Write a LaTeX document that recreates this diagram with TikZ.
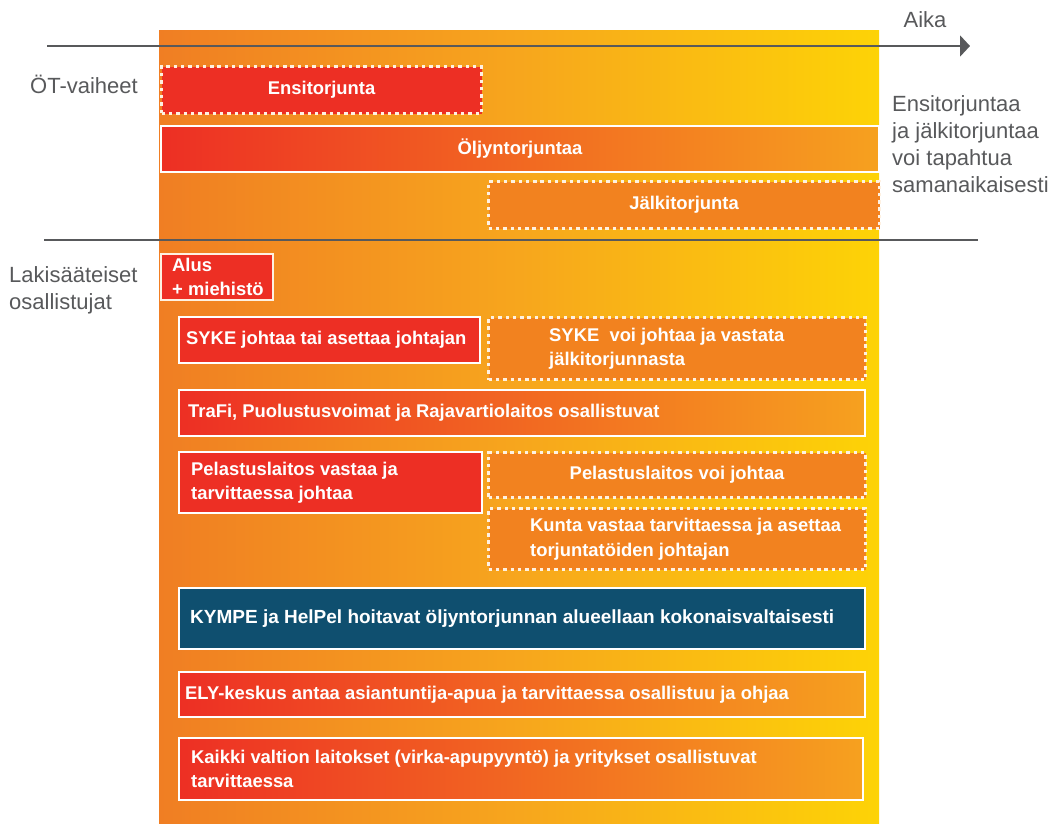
\documentclass[tikz,border=0pt]{standalone}
\usepackage{fontspec}
\setmainfont{Liberation Sans}
\usetikzlibrary{arrows.meta,positioning}

\definecolor{otred}{HTML}{ED2F24}
\definecolor{otorange}{HTML}{F2821F}
\definecolor{otlight}{HTML}{F6A11F}
\definecolor{otblue}{HTML}{0F4F6F}
\definecolor{otgrey}{HTML}{58595B}
\definecolor{otcream}{HTML}{FEF1E2}
\definecolor{bgleft}{HTML}{F07E23}
\definecolor{bgmid}{HTML}{F7A61D}
\definecolor{bgright}{HTML}{FDD306}

\newcommand{\boxtextfont}{\bfseries\fontsize{18.4}{24.5}\selectfont}
\newcommand{\sidetextfont}{\fontsize{22}{27}\selectfont}

\begin{document}
\begin{tikzpicture}[x=1pt, y=-1pt,
    solidbox/.style={draw=white, line width=2pt, text=white, font=\boxtextfont, inner sep=0pt, anchor=north west},
    dotbox/.style={solidbox, draw=otcream, line width=3.2pt, dash pattern=on 3.4pt off 3.9pt},
    gradbox/.style={solidbox, left color=otred, right color=otlight},
    boxlabel/.style={text=white, font=\boxtextfont, inner sep=0pt, align=left},
    sidelabel/.style={text=otgrey, font=\sidetextfont, inner sep=0pt, align=left},
    axisline/.style={otgrey, line width=2.2pt}]
    \useasboundingbox (0,0) rectangle (1053,824);

    % Background band
    \shade[left color=bgleft, right color=bgright, middle color=bgmid] (159,31) rectangle (879,824);

    % Time axis and the dividing line
    \coordinate (timestart) at (47,46);
    \coordinate (timeend) at (970,46);
    \draw[axisline, -{Triangle[length=10pt, width=21pt]}] (timestart) -- (timeend);
    \node[sidelabel, anchor=base] (aika) at (925,28) {Aika};
    \coordinate (splitstart) at (44,240);
    \coordinate (splitend) at (978,240);
    \draw[axisline] (splitstart) -- (splitend);

    % Side texts
    \node[sidelabel, anchor=base west] (otvaiheet) at (30,94) {ÖT-vaiheet};
    \node[sidelabel, anchor=north west] (osallistujat) at (9,266) {Lakisääteiset\\osallistujat};
    \node[sidelabel, anchor=north west] (samanaikaisesti) at (892,95) {Ensitorjuntaa\\ja jälkitorjuntaa\\voi tapahtua\\samanaikaisesti};

    % Phases
    \node[dotbox, fill=otred, minimum width=320pt, minimum height=47pt] (ensi) at (160,65) {Ensitorjunta};
    \node[gradbox, minimum width=718pt, minimum height=46pt] (oljy) at (160,125) {Öljyntorjuntaa};
    \node[dotbox, fill=otorange, minimum width=391pt, minimum height=47pt] (jalki) at (487,180) {Jälkitorjunta};

    % Statutory participants
    \node[solidbox, fill=otred, draw=otcream, minimum width=112pt, minimum height=46pt] (alus) at (160,253) {};
    \node[boxlabel, right=12pt of alus.west] (aluslabel) {Alus\\+~miehistö};

    \node[solidbox, fill=otred, minimum width=301pt, minimum height=46pt] (sykejohtaa) at (178,316) {};
    \node[boxlabel, right=8pt of sykejohtaa.west] (sykejohtaalabel) {SYKE johtaa tai asettaa johtajan};
    \node[dotbox, fill=otorange, minimum width=377pt, minimum height=62pt] (sykevoi) at (487,316) {};
    \node[boxlabel, right=62pt of sykevoi.west] (sykevoilabel) {SYKE\ \ voi johtaa ja vastata\\jälkitorjunnasta};

    \node[gradbox, minimum width=686pt, minimum height=46pt] (trafi) at (178,389) {};
    \node[boxlabel, right=10pt of trafi.west] (trafilabel) {TraFi, Puolustusvoimat ja Rajavartiolaitos osallistuvat};

    \node[solidbox, fill=otred, minimum width=303pt, minimum height=61pt] (pelvastaa) at (178,451) {};
    \node[boxlabel, right=13pt of pelvastaa.west] (pelvastaalabel) {Pelastuslaitos vastaa ja\\tarvittaessa johtaa};
    \node[dotbox, fill=otorange, minimum width=377pt, minimum height=45pt] (pelvoi) at (487,451) {Pelastuslaitos voi johtaa};
    \node[dotbox, fill=otorange, minimum width=377pt, minimum height=61pt] (kunta) at (487,507) {};
    \node[boxlabel, right=43pt of kunta.west] (kuntalabel) {Kunta vastaa tarvittaessa ja asettaa\\torjuntatöiden johtajan};

    \node[solidbox, fill=otblue, minimum width=686pt, minimum height=61pt] (kympe) at (178,587) {};
    \node[boxlabel, font=\bfseries\fontsize{19}{24.5}\selectfont, right=12pt of kympe.west] (kympelabel) {KYMPE ja HelPel hoitavat öljyntorjunnan alueellaan kokonaisvaltaisesti};

    \node[gradbox, minimum width=686pt, minimum height=45pt] (ely) at (178,671) {};
    \node[boxlabel, right=7pt of ely.west] (elylabel) {ELY-keskus antaa asiantuntija-apua ja tarvittaessa osallistuu ja ohjaa};

    \node[gradbox, minimum width=684pt, minimum height=62pt] (kaikki) at (178,737) {};
    \node[boxlabel, right=13pt of kaikki.west] (kaikkilabel) {Kaikki valtion laitokset (virka-apupyyntö) ja yritykset osallistuvat\\tarvittaessa};
\end{tikzpicture}
\end{document}
